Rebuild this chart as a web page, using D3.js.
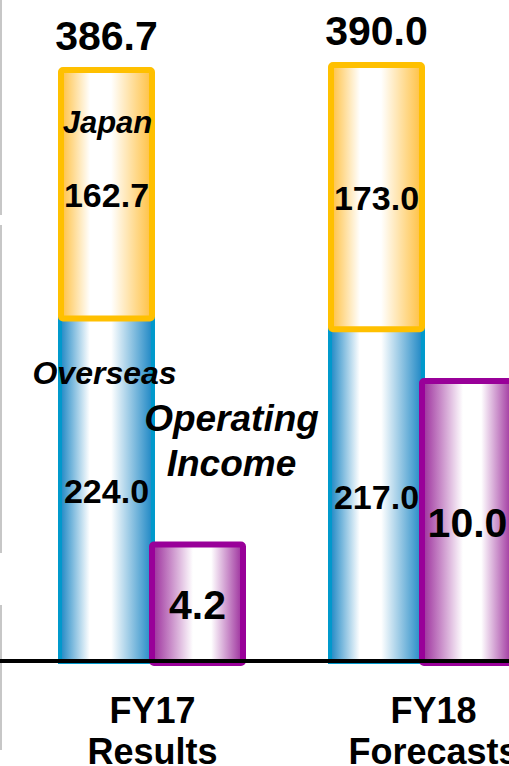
<!DOCTYPE html>
<html>
<head>
<meta charset="utf-8">
<script src="https://cdn.jsdelivr.net/npm/d3@7"></script>
<style>
  html, body { margin: 0; padding: 0; background: #fff; overflow: hidden; }
  #container { width: 509px; height: 766px; }
</style>
</head>
<body>
<div id="container"></div>
<script>
// chart data
const periods = ["FY17", "FY18"];
const periodLines = [["FY17", "Results"], ["FY18", "Forecasts"]];
const overseas = [224.0, 217.0];
const japan = [162.7, 173.0];
const totals = [386.7, 390.0];
const operatingIncome = [4.2, 10.0];

const width = 509;
const height = 766;
const baseY = 660;
const barW = 97;
const font = "'Liberation Sans', Arial, sans-serif";

// sales scale and (separate) operating income scale
const yS = d3.scaleLinear().domain([0, 390]).range([baseY, 62]);
const yI = d3.scaleLinear().domain([0, 10]).range([baseY, 378]);

// groups and the two bars inside each group
const xGroup = d3.scaleBand().domain(periods).range([58, 598]);
const xSub = d3.scaleBand().domain(["sales", "income"]).range([0, 182]);
// category labels sit a bit off the group centre
const xLabel = d3.scalePoint().domain(periods).range([152.5, 433.5]);

const svg = d3.select("#container")
    .append("svg")
    .attr("width", width)
    .attr("height", height);

// gradients: coloured edges, white in the middle
const defs = svg.append("defs");
function grad(id, edge, w0, w1) {
  const g = defs.append("linearGradient")
      .attr("id", id)
      .attr("x1", "0%").attr("x2", "100%")
      .attr("y1", "0%").attr("y2", "0%");
  g.append("stop").attr("offset", 0).attr("stop-color", edge);
  g.append("stop").attr("offset", w0).attr("stop-color", "#fff");
  g.append("stop").attr("offset", w1).attr("stop-color", "#fff");
  g.append("stop").attr("offset", 1).attr("stop-color", edge);
}
grad("gBlue", "#1b86c4", 0.32, 0.55);
grad("gYellow", "#ffc040", 0.32, 0.55);
grad("gPurple", "#9a2a9a", 0.45, 0.65);

// faint left axis from the slide
const leftAxis = [[0, 215], [225, 553], [605, 750]];
svg.append("g")
  .selectAll("line")
  .data(leftAxis)
  .join("line")
    .attr("x1", 1).attr("x2", 1)
    .attr("y1", d => d[0]).attr("y2", d => d[1])
    .attr("stroke", "#b4b4b4")
    .attr("stroke-width", 1.5);

const rows = periods.map((p, i) => ({
  period: p,
  lines: periodLines[i],
  overseas: overseas[i],
  japan: japan[i],
  total: totals[i],
  income: operatingIncome[i]
}));

const group = svg.append("g")
  .selectAll("g")
  .data(rows)
  .join("g")
    .attr("transform", d => `translate(${xGroup(d.period)},0)`);

// overseas (blue)
const sw = 4;
group.append("rect")
    .attr("x", xSub("sales") + sw / 2)
    .attr("y", d => yS(d.overseas) + sw / 2)
    .attr("width", barW - sw)
    .attr("height", d => baseY - yS(d.overseas))
    .attr("fill", "url(#gBlue)")
    .attr("stroke", "#0099cc")
    .attr("stroke-width", sw);

// japan (yellow) stacked on top
const sy = 6;
group.append("rect")
    .attr("x", xSub("sales") + sy / 2)
    .attr("y", d => yS(d.total) + sy / 2)
    .attr("width", barW - sy)
    .attr("height", d => yS(d.overseas) + 5 - yS(d.total) - sy)
    .attr("rx", 2)
    .attr("fill", "url(#gYellow)")
    .attr("stroke", "#ffc000")
    .attr("stroke-width", sy);

// operating income (purple)
group.append("rect")
    .attr("x", xSub("income") + sy / 2)
    .attr("y", d => yI(d.income) + sy / 2)
    .attr("width", barW - sy)
    .attr("height", d => baseY - yI(d.income))
    .attr("rx", 2)
    .attr("fill", "url(#gPurple)")
    .attr("stroke", "#990099")
    .attr("stroke-width", sy);

// baseline
svg.append("line")
    .attr("x1", 0).attr("x2", width)
    .attr("y1", baseY + 1).attr("y2", baseY + 1)
    .attr("stroke", "#000")
    .attr("stroke-width", 4);

// value labels
const txt = (sel) => sel
    .attr("font-family", font)
    .attr("font-weight", "bold")
    .attr("text-anchor", "middle")
    .attr("fill", "#000");

group.append("text").call(txt)
    .attr("x", xSub("sales") + barW / 2)
    .attr("y", d => yS(d.total) - 17)
    .attr("font-size", 41)
    .text(d => d.total.toFixed(1));

group.append("text").call(txt)
    .attr("x", xSub("sales") + barW / 2)
    .attr("y", d => (yS(d.total) + yS(d.overseas)) / 2 + 15)
    .attr("font-size", 34)
    .text(d => d.japan.toFixed(1));

group.append("text").call(txt)
    .attr("x", xSub("sales") + barW / 2)
    .attr("y", d => (yS(d.overseas) + baseY) / 2 + 15)
    .attr("font-size", 34)
    .text(d => d.overseas.toFixed(1));

group.append("text").call(txt)
    .attr("x", xSub("income") + barW / 2)
    .attr("y", d => (yI(d.income) + baseY) / 2 + 18)
    .attr("font-size", 41)
    .text(d => d.income.toFixed(1));

// period labels under the axis
svg.append("g")
  .selectAll("text")
  .data(rows)
  .join("text").call(txt)
    .attr("font-size", 36)
    .selectAll("tspan")
    .data(d => d.lines.map(t => ({ t, p: d.period })))
    .join("tspan")
      .attr("x", d => xLabel(d.p))
      .attr("y", (d, i) => 723 + i * 41)
      .text(d => d.t);

// series names (on the first group only)
const g0 = rows[0];
const x0 = xGroup(g0.period);
svg.append("text").call(txt)
    .attr("x", x0 + xSub("sales") + barW / 2 + 1)
    .attr("y", yS(g0.total) + 66)
    .attr("font-size", 31)
    .attr("font-style", "italic")
    .text("Japan");

svg.append("text").call(txt)
    .attr("x", x0 + xSub("sales") + barW / 2 - 2)
    .attr("y", yS(g0.overseas) + 67)
    .attr("font-size", 32)
    .attr("font-style", "italic")
    .text("Overseas");

svg.append("text").call(txt)
    .attr("font-size", 37)
    .attr("font-style", "italic")
    .selectAll("tspan")
    .data(["Operating", "Income"])
    .join("tspan")
      .attr("x", x0 + xSub("income") + barW / 2 + 34)
      .attr("y", (d, i) => yI(g0.income) - 111 + i * 45)
      .text(d => d);
</script>
</body>
</html>
